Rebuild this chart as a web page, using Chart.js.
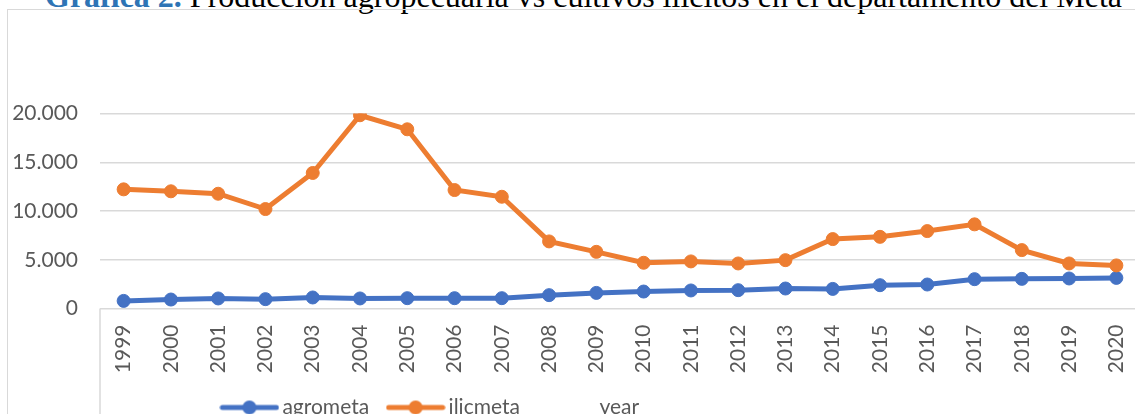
<!DOCTYPE html>
<html>
<head>
<meta charset="utf-8">
<script src="https://cdn.jsdelivr.net/npm/chart.js@4.4.0/dist/chart.umd.min.js"></script>
<style>
html, body { margin: 0; padding: 0; width: 1135px; height: 414px; overflow: hidden; background: #fff; }
#title { position: absolute; left: 45px; top: -20px; font-family: "Liberation Serif", "Times New Roman", serif; font-size: 32px; line-height: 32px; white-space: nowrap; color: #000; }
#title b { color: #2e74b5; }
#frame { position: absolute; left: 7px; top: 9px; width: 1200px; height: 500px; border-left: 1.5px solid #d9d9d9; border-top: 1.5px solid #d9d9d9; }
#myChart { position: absolute; left: 0; top: 0; }
</style>
</head>
<body>
<div id="title"><b>Gráfica 2.</b> Producción agropecuaria vs cultivos ilícitos en el departamento del Meta</div>
<div id="frame"></div>
<canvas id="myChart" width="1160" height="428"></canvas>
<script>
var years = ['1999', '2000', '2001', '2002', '2003', '2004', '2005', '2006', '2007', '2008', '2009', '2010',
    '2011', '2012', '2013', '2014', '2015', '2016', '2017', '2018', '2019', '2020'];
var agrometa = [780, 920, 1030, 960, 1130, 1030, 1060, 1060, 1060, 1370, 1600, 1740,
    1850, 1880, 2050, 2010, 2390, 2460, 3010, 3040, 3080, 3140];
var ilicmeta = [12220, 12020, 11770, 10200, 13900, 19820, 18380, 12150, 11460, 6880, 5810, 4690,
    4830, 4620, 4960, 7120, 7350, 7940, 8630, 5990, 4620, 4420];
var yTicks = [0, 5000, 10000, 15000, 20000];

var Blue = '#4472c4', Orange = '#ed7d31', Grid = '#d9d9d9', TextColor = '#595959';

// legend symbol: line with a dot in the middle (Excel style)
function LegendMark(color) {
    var c = document.createElement('canvas');
    c.width = 60; c.height = 16;
    var g = c.getContext('2d');
    if (color) {
        g.strokeStyle = color; g.lineWidth = 5; g.lineCap = 'round';
        g.beginPath(); g.moveTo(3, 8); g.lineTo(57, 8); g.stroke();
        g.fillStyle = color;
        g.beginPath(); g.arc(30, 8, 7, 0, Math.PI * 2); g.fill();
    }
    return c;
}

function Dots(n) {
    return String(n).replace(/\B(?=(\d{3})+(?!\d))/g, '.');
}

var frameLine = {
    id: 'frameLine',
    afterLayout: function (chart) {
        // Excel put the legend left of centre
        var lg = chart.legend;
        lg.left = 0; lg.right = 866;
    },
    afterDraw: function (chart) {
        var ctx = chart.ctx, a = chart.chartArea;
        ctx.save();
        ctx.strokeStyle = Grid; ctx.lineWidth = 1.5;
        ctx.beginPath();
        ctx.moveTo(a.left, a.bottom);
        ctx.lineTo(a.left, chart.height);
        ctx.stroke();
        ctx.restore();
    }
};

var ctx = document.getElementById('myChart').getContext('2d');
var chart = new Chart(ctx, {
    type: 'line',
    data: {
        labels: years,
        datasets: [{
            label: 'agrometa',
            data: agrometa,
            borderColor: Blue,
            backgroundColor: Blue,
            borderWidth: 5,
            pointRadius: 6.5,
            pointBorderWidth: 1,
            order: 1
        }, {
            label: 'ilicmeta',
            data: ilicmeta,
            borderColor: Orange,
            backgroundColor: Orange,
            borderWidth: 5,
            pointRadius: 6.5,
            pointBorderWidth: 1,
            order: 0
        }, {
            label: 'year',
            data: years.map(Number),
            showLine: false,
            pointRadius: 0,
            borderColor: 'rgba(0,0,0,0)',
            order: 2
        }]
    },
    options: {
        responsive: false,
        animation: false,
        layout: { padding: { top: 113.5, right: 20, left: 0, bottom: 0 } },
        scales: {
            x: {
                offset: true,
                grid: { display: false, drawTicks: false },
                border: { display: false },
                ticks: {
                    color: TextColor,
                    font: { family: 'Lato', size: 21 },
                    minRotation: 90, maxRotation: 90,
                    padding: 16,
                    autoSkip: false
                },
                afterFit: function (s) { s.height = 64.5; }
            },
            y: {
                min: 0, max: 20000,
                afterBuildTicks: function (s) { s.ticks = yTicks.map(function (v) { return { value: v }; }); },
                grid: { color: Grid, lineWidth: 1.5, drawTicks: false },
                border: { display: false },
                ticks: {
                    color: TextColor,
                    font: { family: 'Lato', size: 21 },
                    padding: 22,
                    callback: function (v) { return Dots(v); }
                },
                afterFit: function (s) { s.width = 100; }
            }
        },
        plugins: {
            tooltip: { enabled: false },
            legend: {
                position: 'bottom',
                labels: {
                    usePointStyle: true,
                    pointStyleWidth: 45,
                    padding: 24,
                    color: TextColor,
                    font: { family: 'Lato', size: 21 },
                    generateLabels: function (chart) {
                        var colors = [Blue, Orange, null];
                        return chart.data.datasets.map(function (d, i) {
                            return {
                                text: d.label,
                                pointStyle: LegendMark(colors[i]),
                                fillStyle: 'rgba(0,0,0,0)',
                                strokeStyle: 'rgba(0,0,0,0)',
                                lineWidth: 0,
                                fontColor: TextColor,
                                hidden: false,
                                datasetIndex: i
                            };
                        });
                    }
                }
            }
        }
    },
    plugins: [frameLine]
});
</script>
</body>
</html>
